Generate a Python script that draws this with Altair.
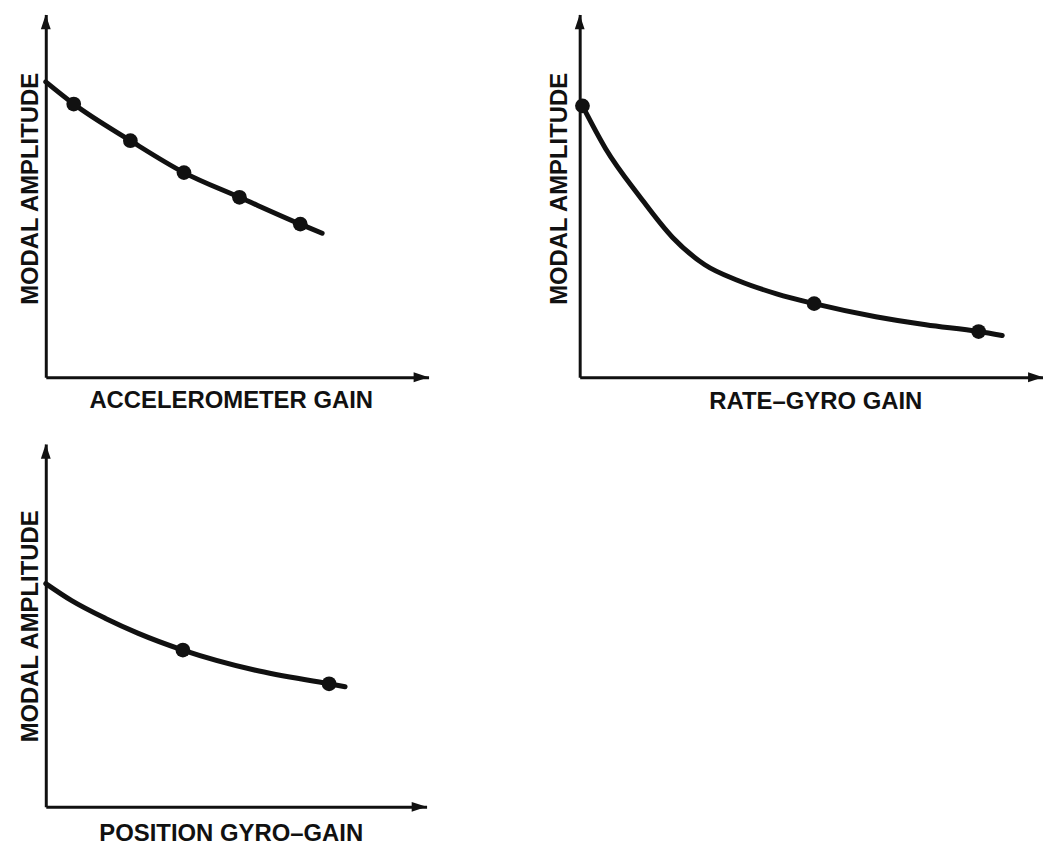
import altair as alt
import pandas as pd

# ---- data (axis units 0..10, arbitrary) ----
acc_curve_gain = [0.0, 0.73, 2.21, 3.61, 5.06, 6.65, 7.22]
acc_curve_amp = [8.14, 7.53, 6.52, 5.64, 4.96, 4.22, 3.97]
acc_point_gain = [0.73, 2.21, 3.61, 5.06, 6.65]
acc_point_amp = [7.53, 6.52, 5.64, 4.96, 4.22]

rate_curve_gain = [0.06, 0.56, 1.29, 2.00, 2.70, 3.43, 4.25, 5.06, 6.39, 7.47, 8.61, 9.12]
rate_curve_amp = [7.48, 6.30, 4.99, 3.86, 3.10, 2.66, 2.30, 2.03, 1.67, 1.45, 1.26, 1.15]
rate_point_gain = [0.06, 5.06, 8.61]
rate_point_amp = [7.48, 2.03, 1.26]

pos_curve_gain = [0.0, 0.68, 1.57, 2.43, 3.60, 5.48, 7.44, 7.86]
pos_curve_amp = [6.15, 5.68, 5.19, 4.78, 4.32, 3.77, 3.39, 3.31]
pos_point_gain = [3.60, 7.44]
pos_point_amp = [4.32, 3.39]

x_titles = ["ACCELEROMETER GAIN", "RATE\u2013GYRO GAIN", "POSITION GYRO\u2013GAIN"]
y_title = "MODAL AMPLITUDE"
axis_min = 0
axis_max = 10

INK = "#111111"
FONT = "Liberation Sans"


def panel(cx, cy, px, py, xtitle, w, h, title_x, title_y, xpad, ypad):
    curve = pd.DataFrame({"gain": cx, "amp": cy})
    pts = pd.DataFrame({"gain": px, "amp": py})
    xarrow = pd.DataFrame({"gain": [axis_max], "amp": [axis_min]})
    yarrow = pd.DataFrame({"gain": [axis_min], "amp": [axis_max]})

    xs = alt.Scale(domain=[axis_min, axis_max], nice=False, zero=False)
    ys = alt.Scale(domain=[axis_min, axis_max], nice=False, zero=False)
    common = dict(ticks=False, labels=False, grid=False, domain=True,
                  domainWidth=3, domainColor=INK, titleFont=FONT,
                  titleFontSize=24, titleFontWeight="bold", titleColor=INK,
                  titleBaseline="alphabetic")
    xax = alt.Axis(title=xtitle, titlePadding=xpad, titleX=title_x,
                   titleAlign="center", **common)
    yax = alt.Axis(title=y_title, titlePadding=ypad, titleY=title_y,
                   titleAlign="center", **common)
    X = alt.X("gain:Q", scale=xs, axis=xax)
    Y = alt.Y("amp:Q", scale=ys, axis=yax)

    line = alt.Chart(curve).mark_line(color=INK, strokeWidth=5,
                                      interpolate="monotone",
                                      strokeCap="round").encode(x=X, y=Y)
    dots = alt.Chart(pts).mark_circle(color=INK, size=220, opacity=1).encode(x=X, y=Y)
    xa = alt.Chart(xarrow).mark_point(shape="M0,0L-1,-0.33L-1,0.33Z", filled=True,
                                      size=900, color=INK, opacity=1,
                                      strokeWidth=0).encode(x=X, y=Y)
    ya = alt.Chart(yarrow).mark_point(shape="M0,0L-0.33,1L0.33,1Z", filled=True,
                                      size=900, color=INK, opacity=1,
                                      strokeWidth=0).encode(x=X, y=Y)
    return alt.layer(line, dots, xa, ya).properties(width=w, height=h)


p1 = panel(acc_curve_gain, acc_curve_amp, acc_point_gain, acc_point_amp,
           x_titles[0], 385, 365, 186, 175, 30, 8.5)
p2 = panel(rate_curve_gain, rate_curve_amp, rate_point_gain, rate_point_amp,
           x_titles[1], 466, 365, 237, 175, 31, 13.5)
p3 = panel(pos_curve_gain, pos_curve_amp, pos_point_gain, pos_point_amp,
           x_titles[2], 383, 365, 186, 183, 34, 8.5)

top = alt.hconcat(p1, p2, spacing=119)
chart = alt.vconcat(top, p3, spacing=31).properties(
    padding={"left": 10, "top": 4, "right": 0, "bottom": 0},
    background="white",
).configure_view(stroke=None)

chart.save("out.html", embed_options={"renderer": "svg", "actions": False})
